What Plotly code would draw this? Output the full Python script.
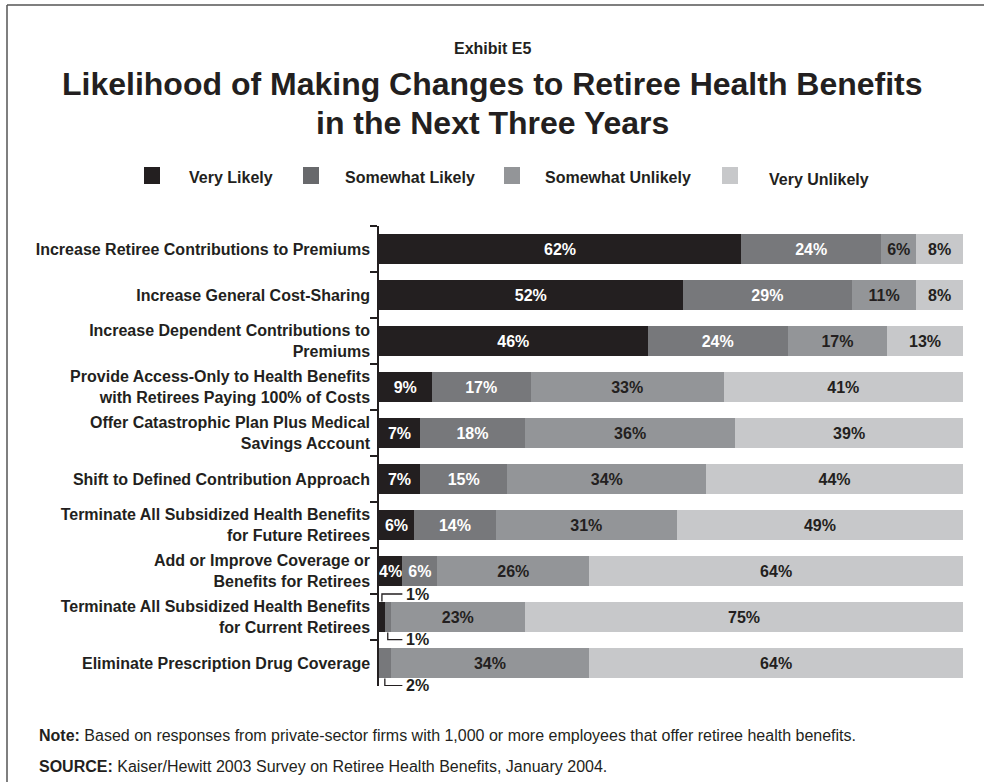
import plotly.graph_objects as go

# ---------------- data ----------------
categories = [
    "Increase Retiree Contributions to Premiums",
    "Increase General Cost-Sharing",
    "Increase Dependent Contributions to<br>Premiums",
    "Provide Access-Only to Health Benefits<br>with Retirees Paying 100% of Costs",
    "Offer Catastrophic Plan Plus Medical<br>Savings Account",
    "Shift to Defined Contribution Approach",
    "Terminate All Subsidized Health Benefits<br>for Future Retirees",
    "Add or Improve Coverage or<br>Benefits for Retirees",
    "Terminate All Subsidized Health Benefits<br>for Current Retirees",
    "Eliminate Prescription Drug Coverage",
]
series_names = ["Very Likely", "Somewhat Likely", "Somewhat Unlikely", "Very Unlikely"]
very_likely = [62, 52, 46, 9, 7, 7, 6, 4, 1, 0]
somewhat_likely = [24, 29, 24, 17, 18, 15, 14, 6, 1, 2]
somewhat_unlikely = [6, 11, 17, 33, 36, 34, 31, 26, 23, 34]
very_unlikely = [8, 8, 13, 41, 39, 44, 49, 64, 75, 64]
series_values = [very_likely, somewhat_likely, somewhat_unlikely, very_unlikely]

# values shown with a callout line instead of inside the bar: (row, series, side)
callouts = [(8, 0, "above"), (8, 1, "below"), (9, 1, "below")]

title_lines = ["Likelihood of Making Changes to Retiree Health Benefits",
               "in the Next Three Years"]

# ---------------- style ----------------
colors = ["#231f20", "#77787b", "#939598", "#c7c8ca"]
text_colors = ["#ffffff", "#ffffff", "#231f20", "#231f20"]
FONT = "Liberation Sans, Arial, Helvetica, sans-serif"
DARK = "#231f20"
FS = 16
BARGAP = 0.33

W, H = 984, 782
L, R, T, B = 379, 963, 226, 686


def px_x(x):
    return (x - L) / (R - L)


def px_y(y):
    return (B - y) / (B - T)


callout_set = {(r, s) for r, s, _ in callouts}

fig = go.Figure()
for s, (name, vals) in enumerate(zip(series_names, series_values)):
    texts = []
    for r, v in enumerate(vals):
        if v == 0 or (r, s) in callout_set:
            texts.append("")
        else:
            texts.append(f"{v}%")
    fig.add_trace(go.Bar(
        y=categories, x=vals, name=name, orientation="h",
        marker=dict(color=colors[s], line=dict(width=0)),
        text=texts, texttemplate="%{text}", textposition="inside",
        insidetextanchor="middle", textangle=0,
        textfont=dict(family=FONT, size=FS, color=text_colors[s], weight="bold"),
        showlegend=False, hoverinfo="skip",
    ))

shapes = []
annotations = []

# callout brackets
half = (1 - BARGAP) / 2
for r, s, side in callouts:
    start = sum(series_values[k][r] for k in range(s))
    xc = start + series_values[s][r] / 2
    if side == "above":
        y0, y1 = r - half, r - 0.5
    else:
        y0, y1 = r + half, r + 0.49
    x_end = 4.0
    shapes.append(dict(type="path", xref="x", yref="y",
                       path=f"M {xc},{y0} L {xc},{y1} L {x_end},{y1}",
                       line=dict(color=DARK, width=1.3)))
    annotations.append(dict(x=x_end + 0.2, y=y1, xref="x", yref="y",
                            text=f"<b>{series_values[s][r]}%</b>", showarrow=False,
                            xanchor="left", yanchor="middle",
                            font=dict(family=FONT, size=FS, color=DARK)))

# frame (top and left lines)
shapes.append(dict(type="line", xref="paper", yref="paper",
                   x0=px_x(7), x1=px_x(984), y0=px_y(5), y1=px_y(5),
                   line=dict(color="#555555", width=1.5)))
shapes.append(dict(type="line", xref="paper", yref="paper",
                   x0=px_x(7), x1=px_x(7), y0=px_y(5), y1=px_y(782),
                   line=dict(color="#555555", width=1.5)))

# legend (manual)
legend_sq_cx = [152, 311, 512, 730]
legend_text_x = [187, 343, 543, 767]
for i, name in enumerate(series_names):
    cx = legend_sq_cx[i]
    shapes.append(dict(type="rect", xref="paper", yref="paper",
                       x0=px_x(cx - 8), x1=px_x(cx + 8),
                       y0=px_y(184), y1=px_y(167),
                       fillcolor=colors[i] if i != 1 else "#68696c", line=dict(width=0)))
    annotations.append(dict(x=px_x(legend_text_x[i]), y=px_y(178 + (2 if i == 3 else 0)),
                            xref="paper", yref="paper", text=f"<b>{name}</b>",
                            showarrow=False, xanchor="left", yanchor="middle",
                            font=dict(family=FONT, size=FS, color=DARK)))

# titles
xmid = (px_x(0) + px_x(984)) / 2
annotations.append(dict(x=xmid, y=px_y(48), xref="paper", yref="paper",
                        text="<b>Exhibit E5</b>", showarrow=False,
                        xanchor="center", yanchor="middle",
                        font=dict(family=FONT, size=FS, color=DARK)))
for line, ypx in zip(title_lines, [84, 123]):
    annotations.append(dict(x=xmid, y=px_y(ypx), xref="paper", yref="paper",
                            text=f"<b>{line}</b>",
                            showarrow=False, xanchor="center", yanchor="middle",
                            font=dict(family=FONT, size=32, color=DARK)))

# notes
annotations.append(dict(x=px_x(37), y=px_y(735), xref="paper", yref="paper",
                        text="<b>Note:</b> Based on responses from private-sector firms with 1,000 or more employees that offer retiree health benefits.",
                        showarrow=False, xanchor="left", yanchor="middle",
                        font=dict(family=FONT, size=FS, color=DARK)))
annotations.append(dict(x=px_x(37), y=px_y(766), xref="paper", yref="paper",
                        text="<b>SOURCE:</b> Kaiser/Hewitt 2003 Survey on Retiree Health Benefits, January 2004.",
                        showarrow=False, xanchor="left", yanchor="middle",
                        font=dict(family=FONT, size=FS, color=DARK)))

fig.update_layout(
    width=W, height=H,
    margin=dict(l=L, r=W - R, t=T, b=H - B, pad=0),
    barmode="stack", bargap=BARGAP,
    paper_bgcolor="white", plot_bgcolor="white",
    uniformtext=dict(minsize=FS, mode="show"),
    xaxis=dict(range=[0, 100], visible=False, fixedrange=True),
    yaxis=dict(type="category", range=[len(categories) - 0.5, -0.5],
               tickson="boundaries", fixedrange=True,
               ticks="outside", ticklen=7, tickcolor=DARK, tickwidth=1.5,
               showline=True, linecolor=DARK, linewidth=1.5,
               showgrid=False, ticklabelstandoff=4,
               tickfont=dict(family=FONT, size=FS, color=DARK, weight="bold")),
    shapes=shapes, annotations=annotations,
    showlegend=False,
)

fig.write_html("out.html", config={"displayModeBar": False},
               post_script="document.body.style.margin='0';")
